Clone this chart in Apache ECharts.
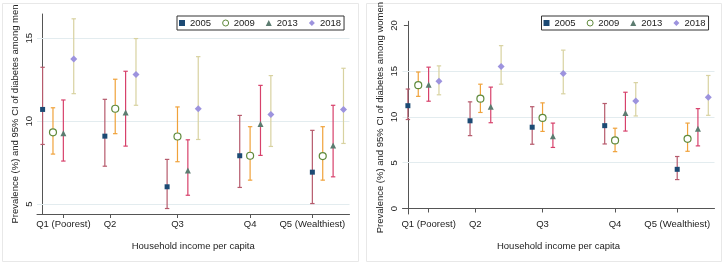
<!DOCTYPE html>
<html>
<head>
<meta charset="utf-8">
<script src="https://cdn.jsdelivr.net/npm/echarts@6/dist/echarts.min.js"></script>
<style>
  html, body { margin: 0; padding: 0; background: #fff; }
  #chart { width: 725px; height: 266px; }
</style>
</head>
<body>
<div id="chart"></div>
<script>
var groups = ['Q1 (Poorest)', 'Q2', 'Q3', 'Q4', 'Q5 (Wealthiest)'];
var groupStart = [0, 6, 12, 19, 26];
var groupTicks = [2, 6.5, 13, 20, 26];
var years = ['2005', '2009', '2013', '2018'];

var menTicks = [5, 10, 15];
var womenTicks = [0, 5, 10, 15, 20];

// men: estimate, lower CI, upper CI (Q1..Q5)
var men2005 = [10.71, 9.10, 6.05, 7.92, 6.93];
var men2005Lo = [8.60, 7.29, 4.74, 6.01, 5.04];
var men2005Hi = [13.25, 11.32, 7.70, 10.35, 9.45];
var men2009 = [9.33, 10.75, 9.08, 7.92, 7.90];
var men2009Lo = [8.02, 9.25, 7.56, 6.45, 6.45];
var men2009Hi = [10.81, 12.53, 10.86, 9.67, 9.67];
var men2013 = [9.27, 10.53, 7.03, 9.83, 8.54];
var men2013Lo = [7.60, 8.50, 5.54, 7.94, 6.65];
var men2013Hi = [11.28, 13.01, 8.88, 12.16, 10.96];
var men2018 = [13.75, 12.81, 10.75, 10.41, 10.71];
var men2018Lo = [11.66, 10.96, 8.90, 8.48, 8.66];
var men2018Hi = [16.17, 14.98, 13.89, 12.75, 13.19];

// women
var women2005 = [11.23, 9.58, 8.88, 9.05, 4.28];
var women2005Lo = [9.72, 7.96, 7.02, 7.05, 3.16];
var women2005Hi = [13.05, 11.65, 11.12, 11.47, 5.68];
var women2009 = [13.47, 12.00, 9.89, 7.44, 7.61];
var women2009Lo = [12.25, 10.49, 8.42, 6.21, 6.25];
var women2009Hi = [14.91, 13.58, 11.54, 8.77, 9.33];
var women2013 = [13.51, 11.12, 7.89, 10.42, 8.70];
var women2013Lo = [11.72, 9.37, 6.67, 8.46, 6.84];
var women2013Hi = [15.44, 13.26, 9.33, 12.70, 10.91];
var women2018 = [13.89, 15.51, 14.74, 11.75, 12.14];
var women2018Lo = [12.42, 13.58, 12.53, 10.11, 10.18];
var women2018Hi = [15.58, 17.79, 17.30, 13.75, 14.53];

var font = 'Liberation Sans, Arial, sans-serif';
var markers = [
  {symbol: 'rect', size: 5, color: '#1c4a74', border: null},
  {symbol: 'circle', size: 7, color: '#fff', border: '#5f8a3c'},
  {symbol: 'triangle', size: 6, color: '#5c7c70', border: null},
  {symbol: 'diamond', size: 7, color: '#9d93de', border: null}
];
var capColors = ['#b65a6c', '#f0a23a', '#d7416b', '#d8d2a0'];

function capRenderer(color) {
  return function (params, api) {
    var x = api.value(0);
    var top = api.coord([x, api.value(2)]);
    var bot = api.coord([x, api.value(1)]);
    var w = 2.2;
    var style = {stroke: color, lineWidth: 1.2, fill: null};
    return {
      type: 'group',
      children: [
        {type: 'line', shape: {x1: top[0], y1: top[1], x2: bot[0], y2: bot[1]}, style: style},
        {type: 'line', shape: {x1: top[0] - w, y1: top[1], x2: top[0] + w, y2: top[1]}, style: style},
        {type: 'line', shape: {x1: bot[0] - w, y1: bot[1], x2: bot[0] + w, y2: bot[1]}, style: style}
      ]
    };
  };
}

function panelSeries(idx, est, lo, hi, gridLines) {
  var list = [];
  for (var k = 0; k < years.length; k++) {
    var ci = [], pts = [];
    for (var i = 0; i < groups.length; i++) {
      ci.push([groupStart[i] + k, lo[k][i], hi[k][i]]);
      pts.push([groupStart[i] + k, est[k][i]]);
    }
    list.push({
      type: 'custom',
      name: years[k] + ' CI',
      xAxisIndex: idx, yAxisIndex: idx,
      renderItem: capRenderer(capColors[k]),
      encode: {x: 0, y: [1, 2]},
      data: ci,
      z: 2,
      silent: true
    });
    var m = markers[k];
    var s = {
      type: 'scatter',
      name: years[k],
      xAxisIndex: idx, yAxisIndex: idx,
      symbol: m.symbol,
      symbolSize: m.size,
      itemStyle: {color: m.color, borderColor: m.border || m.color, borderWidth: m.border ? 1.2 : 0, opacity: 1},
      data: pts,
      z: 3
    };
    if (k === 0) {
      s.markLine = {
        silent: true, symbol: 'none', label: {show: false}, z: 1,
        lineStyle: {color: '#e3ecef', type: 'solid', width: 1},
        data: gridLines.map(function (v) { return {yAxis: v}; })
      };
    }
    list.push(s);
  }
  return list;
}

function legendFor(left) {
  return {
    left: left, top: 16,
    orient: 'horizontal',
    padding: [2, 3, 2, 2],
    borderColor: '#333', borderWidth: 1,
    itemWidth: 6, itemHeight: 6, itemGap: 11,
    textStyle: {fontSize: 9.5, color: '#222', fontFamily: font},
    data: years.map(function (y, k) {
      var m = markers[k];
      return {name: y, icon: m.symbol,
        itemStyle: {color: m.color, borderColor: m.border || m.color, borderWidth: m.border ? 1 : 0}};
    })
  };
}

function xAxisFor(idx, min, max) {
  return {
    type: 'value', gridIndex: idx, min: min, max: max,
    name: 'Household income per capita', nameLocation: 'middle', nameGap: 27,
    nameTextStyle: {fontSize: 9.5, color: '#222', fontFamily: font},
    axisLine: {lineStyle: {color: '#555', width: 1}},
    axisTick: {customValues: groupTicks, length: 4, lineStyle: {color: '#555'}},
    axisLabel: {
      customValues: groupTicks, margin: 5, fontSize: 9.5, color: '#222', fontFamily: font,
      formatter: function (v) { return groups[groupTicks.indexOf(v)] || ''; }
    },
    splitLine: {show: false}
  };
}

function yAxisFor(idx, min, max, ticks, title) {
  return {
    type: 'value', gridIndex: idx, min: min, max: max,
    name: title, nameLocation: 'middle', nameGap: 17,
    nameTextStyle: {fontSize: 9.5, color: '#222', fontFamily: font},
    axisLine: {show: true, lineStyle: {color: '#555', width: 1}},
    axisTick: {show: true, customValues: ticks, length: 4, lineStyle: {color: '#555'}},
    axisLabel: {customValues: ticks, rotate: 90, margin: 3, fontSize: 9.5, color: '#222', fontFamily: font},
    splitLine: {show: false}
  };
}

var menSeries = panelSeries(0,
  [men2005, men2009, men2013, men2018],
  [men2005Lo, men2009Lo, men2013Lo, men2018Lo],
  [men2005Hi, men2009Hi, men2013Hi, men2018Hi],
  menTicks);
var womenSeries = panelSeries(1,
  [women2005, women2009, women2013, women2018],
  [women2005Lo, women2009Lo, women2013Lo, women2018Lo],
  [women2005Hi, women2009Hi, women2013Hi, women2018Hi],
  womenTicks.slice(1, -1));

var option = {
  animation: false,
  backgroundColor: '#fff',
  graphic: [
    {type: 'rect', shape: {x: 2.5, y: 3.5, width: 356, height: 258}, style: {fill: null, stroke: '#e8e8e8', lineWidth: 1}, silent: true},
    {type: 'rect', shape: {x: 366.5, y: 3.5, width: 355, height: 258}, style: {fill: null, stroke: '#e8e8e8', lineWidth: 1}, silent: true}
  ],
  legend: [legendFor(177), legendFor(541.5)],
  grid: [
    {left: 37, top: 14, width: 312.5, height: 200},
    {left: 402.5, top: 14, width: 312, height: 200}
  ],
  xAxis: [xAxisFor(0, -0.54, 29.58), xAxisFor(1, -0.52, 29.6)],
  yAxis: [
    yAxisFor(0, 4.41, 16.46, menTicks, 'Prevalence (%) and 95% CI of diabetes among men'),
    yAxisFor(1, -0.6, 20.45, womenTicks, 'Prevalence (%) and 95% CI of diabetes among women')
  ],
  series: menSeries.concat(womenSeries)
};

var chart = echarts.init(document.getElementById('chart'));
chart.setOption(option);
</script>
</body>
</html>
